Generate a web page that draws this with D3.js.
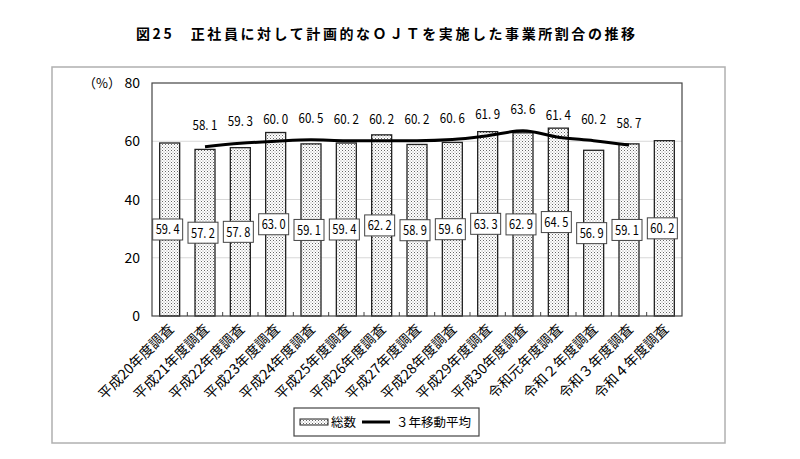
<html>
<head>
<meta charset="utf-8">
<script src="https://d3js.org/d3.v7.min.js"></script>
<style>
  body { margin: 0; background: #fff; }
  text { font-family: "Noto Sans CJK JP", sans-serif; }
</style>
</head>
<body>
<svg id="svg" width="800" height="459"></svg>
<script>
var categories = ["平成20年度調査","平成21年度調査","平成22年度調査","平成23年度調査","平成24年度調査",
  "平成25年度調査","平成26年度調査","平成27年度調査","平成28年度調査","平成29年度調査",
  "平成30年度調査","令和元年度調査","令和２年度調査","令和３年度調査","令和４年度調査"];
var totals = [59.4, 57.2, 57.8, 63.0, 59.1, 59.4, 62.2, 58.9, 59.6, 63.3, 62.9, 64.5, 56.9, 59.1, 60.2];
// 3-year moving average, from 平成21 to 令和3
var avgCats = categories.slice(1, 14);
var movingAvg = [58.1, 59.3, 60.0, 60.5, 60.2, 60.2, 60.2, 60.6, 61.9, 63.6, 61.4, 60.2, 58.7];
var yTicks = [0, 20, 40, 60, 80];

var svg = d3.select("svg");
var pL = 152, pR = 682, pT = 83, pB = 316;

var x = d3.scaleBand().domain(categories).range([pL, pR]);
var y = d3.scaleLinear().domain([0, 80]).range([pB, pT]);

// dot pattern
var defs = svg.append("defs");
var pat = defs.append("pattern").attr("id", "dots").attr("patternUnits", "userSpaceOnUse")
  .attr("width", 3).attr("height", 3);
pat.append("rect").attr("width", 3).attr("height", 3).attr("fill", "#fff");
pat.append("rect").attr("x", 0).attr("y", 0).attr("width", 1).attr("height", 1).attr("fill", "#666");
pat.append("rect").attr("x", 1.5).attr("y", 1.5).attr("width", 1).attr("height", 1).attr("fill", "#999");

// outer frame
svg.append("rect").attr("x", 52).attr("y", 67).attr("width", 673).attr("height", 376)
  .attr("fill", "none").attr("stroke", "#b0b0b0").attr("stroke-width", 1.5);

// title
svg.append("text").attr("x", 136).attr("y", 39)
  .attr("font-size", 14).attr("font-weight", "bold")
  .attr("textLength", 499).attr("lengthAdjust", "spacing")
  .text("図25　正社員に対して計画的なＯＪＴを実施した事業所割合の推移");

// gridlines
svg.append("g").selectAll("line").data(yTicks.slice(1, 4)).join("line")
  .attr("x1", pL).attr("x2", pR)
  .attr("y1", d => y(d)).attr("y2", d => y(d))
  .attr("stroke", "#d8d8d8").attr("stroke-width", 1);

// y axis labels
svg.append("g").selectAll("text").data(yTicks).join("text")
  .attr("x", 140).attr("y", d => y(d) + 5)
  .attr("text-anchor", "end").attr("font-size", 14)
  .text(d => d);
svg.append("text").attr("x", 121).attr("y", 88).attr("text-anchor", "end")
  .attr("font-size", 13).text("（%）");

// bars
var bw = 20;
svg.append("g").selectAll("rect").data(totals).join("rect")
  .attr("x", (d, i) => x(categories[i]) + x.bandwidth() / 2 - bw / 2)
  .attr("y", d => y(d))
  .attr("width", bw)
  .attr("height", d => pB - y(d))
  .attr("fill", "url(#dots)")
  .attr("stroke", "#222").attr("stroke-width", 1.3);

// plot frame
svg.append("rect").attr("x", pL).attr("y", pT).attr("width", pR - pL).attr("height", pB - pT)
  .attr("fill", "none").attr("stroke", "#444").attr("stroke-width", 1.2);

// x ticks (pointing up, at band edges)
svg.append("g").selectAll("line").data(categories.slice(1)).join("line")
  .attr("x1", d => x(d)).attr("x2", d => x(d))
  .attr("y1", pB).attr("y2", pB - 4)
  .attr("stroke", "#444");

// bar value labels in boxes (centered at mid-height)
var bl = svg.append("g").selectAll("g").data(totals).join("g")
  .attr("transform", (d, i) => "translate(" + (x(categories[i]) + x.bandwidth() / 2 - 2) + "," + y(d / 2) + ")");
bl.append("rect").attr("x", -15).attr("y", -10.5).attr("width", 30).attr("height", 21)
  .attr("fill", "#fff").attr("stroke", "#444").attr("stroke-width", 1);
bl.append("text").attr("text-anchor", "middle").attr("y", 5).attr("font-size", 13)
  .attr("textLength", 24).attr("lengthAdjust", "spacingAndGlyphs")
  .text(d => d.toFixed(1).replace(".", ". "));

// moving average line
var line = d3.line()
  .x((d, i) => x(avgCats[i]) + x.bandwidth() / 2)
  .y(d => y(d))
  .curve(d3.curveMonotoneX);
svg.append("path").datum(movingAvg).attr("d", line)
  .attr("fill", "none").attr("stroke", "#000").attr("stroke-width", 3);

svg.append("g").selectAll("text").data(movingAvg).join("text")
  .attr("x", (d, i) => x(avgCats[i]) + x.bandwidth() / 2)
  .attr("y", d => y(d) - 17)
  .attr("text-anchor", "middle").attr("font-size", 13)
  .attr("textLength", 25).attr("lengthAdjust", "spacingAndGlyphs")
  .text(d => d.toFixed(1).replace(".", ". "));

// x labels
svg.append("g").selectAll("text").data(categories).join("text")
  .attr("transform", d => "translate(" + (x(d) + x.bandwidth() / 2 + 5) + "," + (pB + 14) + ") rotate(-45)")
  .attr("text-anchor", "end").attr("font-size", 14)
  .text(d => d);

// legend
var lg = svg.append("g").attr("transform", "translate(294,408)");
lg.append("rect").attr("width", 185).attr("height", 28).attr("fill", "#fff")
  .attr("stroke", "#444").attr("stroke-width", 1.2);
lg.append("rect").attr("x", 6).attr("y", 11).attr("width", 28).attr("height", 6)
  .attr("fill", "url(#dots)").attr("stroke", "#222").attr("stroke-width", 1);
lg.append("text").attr("x", 37).attr("y", 19).attr("font-size", 12.5).text("総数");
lg.append("line").attr("x1", 68).attr("x2", 96).attr("y1", 14).attr("y2", 14)
  .attr("stroke", "#000").attr("stroke-width", 3);
lg.append("text").attr("x", 102).attr("y", 19).attr("font-size", 12.5).text("３年移動平均");
</script>
</body>
</html>
